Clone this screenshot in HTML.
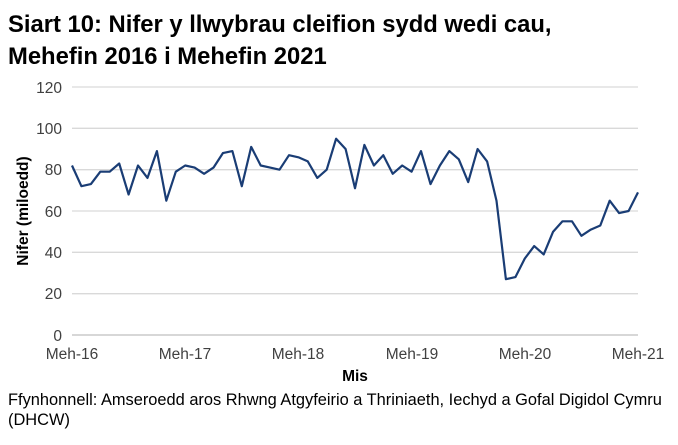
<!DOCTYPE html>
<html><head><meta charset="utf-8"><style>
body{margin:0;background:#fff;font-family:"Liberation Sans",Arial,sans-serif;}
</style></head><body>
<svg width="678" height="440" xmlns="http://www.w3.org/2000/svg" font-family="Liberation Sans, Arial, sans-serif">
<text x="8" y="32" font-size="23.8" font-weight="bold" fill="#000">Siart 10: Nifer y llwybrau cleifion sydd wedi cau,</text>
<text x="8" y="64" font-size="23.8" font-weight="bold" fill="#000">Mehefin 2016 i Mehefin 2021</text>
<g stroke="#d9d9d9" stroke-width="1.3">
<line x1="72" x2="638" y1="87" y2="87"/><line x1="72" x2="638" y1="128.3" y2="128.3"/>
<line x1="72" x2="638" y1="169.7" y2="169.7"/><line x1="72" x2="638" y1="211" y2="211"/>
<line x1="72" x2="638" y1="252.3" y2="252.3"/><line x1="72" x2="638" y1="293.7" y2="293.7"/>
</g>
<line x1="72" x2="638" y1="335" y2="335" stroke="#bfbfbf" stroke-width="1.3"/>
<g font-size="15.5" fill="#404040" text-anchor="end">
<text x="62" y="93">120</text><text x="62" y="134">100</text><text x="62" y="175">80</text>
<text x="62" y="217">60</text><text x="62" y="258">40</text><text x="62" y="299">20</text><text x="62" y="341">0</text>
</g>
<g font-size="15.5" fill="#404040" text-anchor="middle">
<text x="72" y="359">Meh-16</text><text x="185" y="359">Meh-17</text><text x="298" y="359">Meh-18</text>
<text x="412" y="359">Meh-19</text><text x="525" y="359">Meh-20</text><text x="638" y="359">Meh-21</text>
</g>
<text x="355" y="381" font-size="15.5" font-weight="bold" text-anchor="middle">Mis</text>
<text transform="translate(28,211) rotate(-90)" font-size="15.5" font-weight="bold" text-anchor="middle">Nifer (miloedd)</text>
<polyline id="l" fill="none" stroke="#1a3d75" stroke-width="2.2" stroke-linejoin="round" points=""/>
<text x="8" y="405" font-size="16.4" fill="#000">Ffynhonnell: Amseroedd aros Rhwng Atgyfeirio a Thriniaeth, Iechyd a Gofal Digidol Cymru</text>
<text x="8" y="425" font-size="16.4" fill="#000">(DHCW)</text>
</svg>
<script>
var v=[82,72,73,79,79,83,68,82,76,89,65,79,82,81,78,81,88,89,72,91,82,81,80,87,86,84,76,80,95,90,71,92,82,87,78,82,79,89,73,82,89,85,74,90,84,65,27,28,37,43,39,50,55,55,48,51,53,65,59,60,69];
var p=v.map(function(d,i){return (72+i*566/60).toFixed(1)+","+(335-d*248/120).toFixed(1)}).join(" ");
document.getElementById("l").setAttribute("points",p);
</script>
</body></html>
